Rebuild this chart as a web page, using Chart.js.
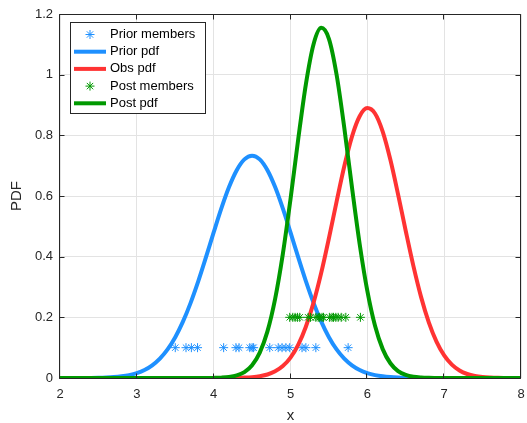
<!DOCTYPE html>
<html>
<head>
<meta charset="utf-8">
<script src="https://cdn.jsdelivr.net/npm/chart.js@4"></script>
<style>
    html, body { margin: 0; padding: 0; background: #fff; }
    #wrap { width: 527px; height: 423px; position: relative; }
</style>
</head>
<body>
<div id="wrap"><canvas id="chart1"></canvas></div>
<script>

// x grid the pdf curves are read at
const xGrid = [
    2.0, 2.1, 2.2, 2.3, 2.4, 2.5, 2.6, 2.7, 2.8, 2.9,
    3.0, 3.1, 3.2, 3.3, 3.4, 3.5, 3.6, 3.7, 3.8, 3.9,
    4.0, 4.1, 4.2, 4.3, 4.4, 4.5, 4.6, 4.7, 4.8, 4.9,
    5.0, 5.1, 5.2, 5.3, 5.4, 5.5, 5.6, 5.7, 5.8, 5.9,
    6.0, 6.1, 6.2, 6.3, 6.4, 6.5, 6.6, 6.7, 6.8, 6.9,
    7.0, 7.1, 7.2, 7.3, 7.4, 7.5, 7.6, 7.7, 7.8, 7.9, 8.0
]

const priorPdf = [
    0, 0, .0001, .0002, .0004, .0008, .0016, .0030, .0055, .0096,
    .0162, .0264, .0418, .0639, .0943, .1346, .1857, .2478, .3194, .3982,
    .4798, .5589, .6293, .6849, .7207, .733, .7207, .6849, .6293, .5589,
    .4798, .3982, .3194, .2478, .1857, .1346, .0943, .0639, .0418, .0264,
    .0162, .0096, .0055, .0030, .0016, .0008, .0004, .0002, .0001, 0,
    0, 0, 0, 0, 0, 0, 0, 0, 0, 0, 0
]

const obsPdf = [
    0, 0, 0, 0, 0, 0, 0, 0, 0, 0,
    0, 0, 0, 0, 0, 0, 0, 0, 0, 0,
    0, .0001, .0002, .0005, .0013, .0028, .0058, .0115, .0219, .0393,
    .0673, .1094, .1691, .2484, .3469, .4608, .5815, .6979, .7960, .8631,
    .8898, .8719, .8123, .7193, .6055, .4846, .3687, .2666, .1833, .1198,
    .0744, .0440, .0247, .0132, .0067, .0032, .0015, .0006, .0003, .0001, 0
]

const postPdf = [
    0, 0, 0, 0, 0, 0, 0, 0, 0, 0,
    0, 0, 0, 0, 0, 0, 0, 0, 0, .0001,
    .0004, .0012, .0033, .0084, .0195, .0421, .0837, .1538, .2608, .4083,
    .5896, .7864, .9682, 1.1005, 1.1545, 1.1182, .9997, .8250, .6286, .4420,
    .2870, .1720, .0952, .0486, .0229, .0100, .0040, .0015, .0005, .0002,
    0, 0, 0, 0, 0, 0, 0, 0, 0, 0, 0
]

// ensemble members (x values), drawn at a fixed height
const priorMembers = [3.50, 3.64, 3.71, 3.79, 4.13, 4.29, 4.33, 4.47, 4.50, 4.52,
    4.73, 4.84, 4.89, 4.94, 4.99, 5.15, 5.20, 5.33, 5.75]
const priorLevel = 0.1

const postMembers = [4.99, 5.03, 5.06, 5.09, 5.12, 5.23, 5.26, 5.33, 5.36, 5.38,
    5.41, 5.43, 5.51, 5.54, 5.56, 5.59, 5.62, 5.66, 5.72, 5.91]
const postLevel = 0.2

const xTicks = [2, 3, 4, 5, 6, 7, 8]
const yTicks = [0, 0.2, 0.4, 0.6, 0.8, 1, 1.2]


const BLUE = 'rgb(30, 144, 255)'
const RED = 'rgb(255, 51, 51)'
const GREEN = 'rgb(0, 153, 0)'
const INK = '#262626'
const FONT = '"Liberation Sans", Arial, Helvetica, sans-serif'

const curve = ys => xGrid.map((x, i) => ({ x, y: ys[i] }))
const members = (xs, level) => xs.map(x => ({ x, y: level }))


// box, inward ticks and legend in the MATLAB style
const framePlugin = {
    id: 'frame',
    afterDatasetsDraw(chart) {
        const { ctx, chartArea: a, scales } = chart
        const L = a.left - 0.5, R = a.right - 0.5, T = a.top + 0.5, B = a.bottom + 0.5
        ctx.save()
        ctx.strokeStyle = INK
        ctx.lineWidth = 1
        ctx.beginPath()
        ctx.rect(L, T, R - L, B - T)
        xTicks.forEach(v => {
            const px = Math.round(scales.x.getPixelForValue(v)) - 0.5
            ctx.moveTo(px, B); ctx.lineTo(px, B - 5)
            ctx.moveTo(px, T); ctx.lineTo(px, T + 5)
        })
        yTicks.forEach(v => {
            const py = Math.round(scales.y.getPixelForValue(v)) + 0.5
            ctx.moveTo(L, py); ctx.lineTo(L + 5, py)
            ctx.moveTo(R, py); ctx.lineTo(R - 5, py)
        })
        ctx.stroke()

        // legend
        const bx = 70.5, by = 22.5, bw = 135, bh = 91
        ctx.fillStyle = '#fff'
        ctx.fillRect(bx, by, bw, bh)
        ctx.strokeRect(bx, by, bw, bh)
        ctx.font = '13px ' + FONT
        ctx.textBaseline = 'middle'
        ctx.textAlign = 'left'
        chart.data.datasets.forEach((ds, i) => {
            const cy = 34.5 + i * 17.2
            ctx.strokeStyle = ds.borderColor
            if (ds.showLine) {
                ctx.lineWidth = 4
                ctx.beginPath()
                ctx.moveTo(74, cy); ctx.lineTo(106, cy)
                ctx.stroke()
            } else {
                ctx.lineWidth = 1
                Chart.helpers.drawPoint(ctx, { pointStyle: 'star', radius: 4.5, rotation: 0, borderWidth: 1 }, 90, cy)
            }
            ctx.fillStyle = '#000'
            ctx.fillText(ds.label, 110, cy)
        })
        ctx.restore()
    }
}


const drawChart = () => {

    const data = {
        datasets: [
            {
                label: 'Prior members',
                data: members(priorMembers, priorLevel),
                showLine: false,
                pointStyle: 'star',
                pointRadius: 4.5,
                borderWidth: 1,
                borderColor: BLUE,
                backgroundColor: BLUE,
                order: 5
            },
            {
                label: 'Prior pdf',
                data: curve(priorPdf),
                showLine: true,
                pointRadius: 0,
                borderWidth: 4,
                borderColor: BLUE,
                cubicInterpolationMode: 'monotone',
                order: 4
            },
            {
                label: 'Obs pdf',
                data: curve(obsPdf),
                showLine: true,
                pointRadius: 0,
                borderWidth: 4,
                borderColor: RED,
                cubicInterpolationMode: 'monotone',
                order: 3
            },
            {
                label: 'Post members',
                data: members(postMembers, postLevel),
                showLine: false,
                pointStyle: 'star',
                pointRadius: 4.5,
                borderWidth: 1,
                borderColor: GREEN,
                backgroundColor: GREEN,
                order: 2
            },
            {
                label: 'Post pdf',
                data: curve(postPdf),
                showLine: true,
                pointRadius: 0,
                borderWidth: 4,
                borderColor: GREEN,
                cubicInterpolationMode: 'monotone',
                order: 1
            }
        ]
    }

    const options = {
        responsive: true,
        maintainAspectRatio: false,
        animation: false,
        layout: { padding: { top: 14, right: 6, left: 0, bottom: 0 } },
        plugins: {
            legend: { display: false },
            tooltip: { enabled: false }
        },
        scales: {
            x: {
                type: 'linear',
                min: 2,
                max: 8,
                afterBuildTicks: s => { s.ticks = xTicks.map(value => ({ value })) },
                afterFit: s => { s.height = 45; s.paddingLeft = 0; s.paddingRight = 0 },
                grid: { color: '#e3e3e3', drawTicks: false },
                border: { display: false },
                ticks: { color: INK, font: { size: 13, family: FONT }, padding: 9 },
                title: { display: true, text: 'x', color: INK, font: { size: 15, family: FONT }, padding: { top: -2, bottom: -2 } }
            },
            y: {
                min: 0,
                max: 1.2,
                afterBuildTicks: s => { s.ticks = yTicks.map(value => ({ value })) },
                afterFit: s => { s.width = 60; s.paddingTop = 0; s.paddingBottom = 0 },
                grid: { color: '#e3e3e3', drawTicks: false },
                border: { display: false },
                ticks: {
                    color: INK,
                    font: { size: 13, family: FONT },
                    padding: 7,
                    callback: v => String(Number(v.toFixed(1)))
                },
                title: { display: true, text: 'PDF', color: INK, font: { size: 15, family: FONT }, padding: { top: 8, bottom: 0 } }
            }
        }
    }

    new Chart('chart1', {
        type: 'scatter',
        data,
        options,
        plugins: [framePlugin]
    })
}


drawChart()
</script>
</body>
</html>
